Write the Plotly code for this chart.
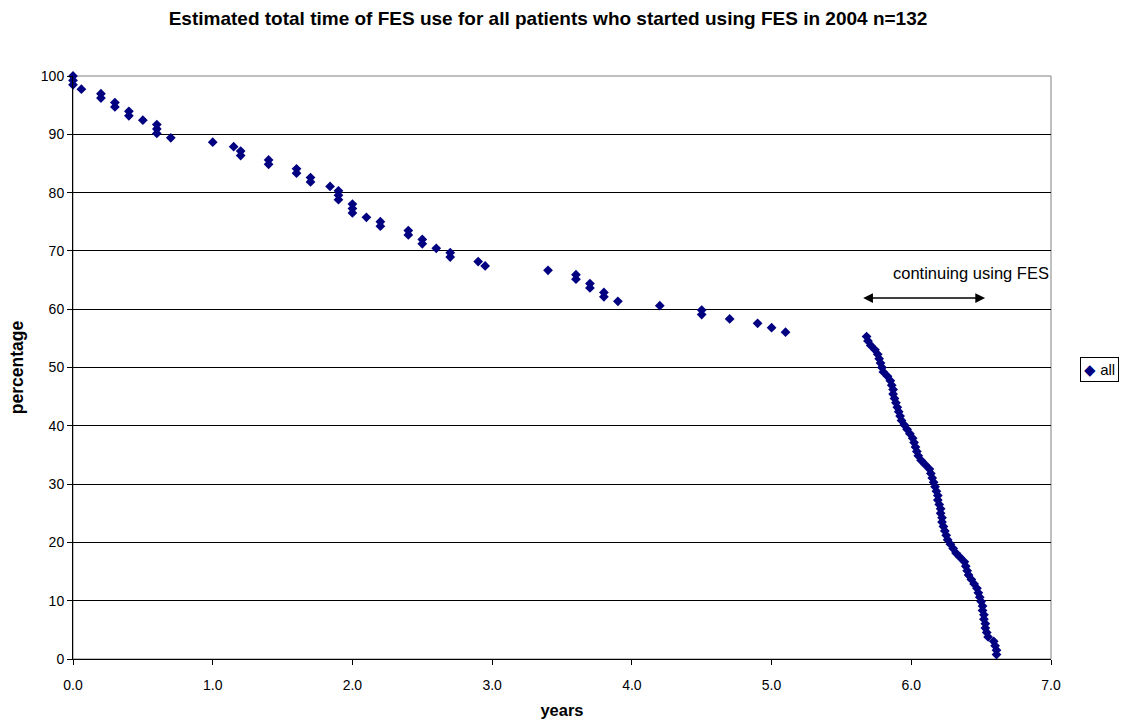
import plotly.graph_objects as go

# ---- data ----
years = [
    0.0, 0.0, 0.0, 0.06, 0.2, 0.2, 0.3, 0.3, 0.4, 0.4, 0.5,
    0.6, 0.6, 0.6, 0.7, 1.0, 1.15, 1.2, 1.2, 1.4, 1.4, 1.6, 1.6,
    1.7, 1.7, 1.84, 1.9, 1.9, 1.9, 2.0, 2.0, 2.0,
    2.1, 2.2, 2.2, 2.4, 2.4, 2.5, 2.5, 2.6, 2.7, 2.7, 2.9, 2.95,
    3.4, 3.6, 3.6, 3.7, 3.7, 3.8, 3.8, 3.9, 4.2, 4.5, 4.5, 4.7,
    4.9, 5.0, 5.1,
    5.68, 5.69, 5.71, 5.74, 5.76, 5.77, 5.78, 5.79, 5.80, 5.83,
    5.85, 5.86, 5.87, 5.87, 5.88, 5.89, 5.90, 5.91, 5.92, 5.93,
    5.95, 5.97, 5.99, 6.01, 6.02, 6.03, 6.04, 6.05, 6.07, 6.10,
    6.13, 6.14, 6.15, 6.16, 6.17, 6.18, 6.19, 6.19, 6.20, 6.21,
    6.21, 6.22, 6.22, 6.23, 6.24, 6.25, 6.26, 6.28, 6.30, 6.32,
    6.35, 6.38, 6.39, 6.40, 6.41, 6.43, 6.45, 6.47, 6.48, 6.49,
    6.50, 6.51, 6.51, 6.52, 6.52, 6.53, 6.53, 6.54, 6.55, 6.59,
    6.60, 6.61, 6.61,
]
percentage = [
    100.0, 99.24, 98.48, 97.73, 96.97, 96.21, 95.45, 94.70, 93.94, 93.18, 92.42,
    91.67, 90.91, 90.15, 89.39, 88.64, 87.88, 87.12, 86.36, 85.61, 84.85, 84.09, 83.33,
    82.58, 81.82, 81.06, 80.30, 79.55, 78.79, 78.03, 77.27, 76.52,
    75.76, 75.00, 74.24, 73.48, 72.73, 71.97, 71.21, 70.45, 69.70, 68.94, 68.18, 67.42,
    66.67, 65.91, 65.15, 64.39, 63.64, 62.88, 62.12, 61.36, 60.61, 59.85, 59.09, 58.33,
    57.58, 56.82, 56.06,
    55.30, 54.55, 53.79, 53.03, 52.27, 51.52, 50.76, 50.00, 49.24, 48.48,
    47.73, 46.97, 46.21, 45.45, 44.70, 43.94, 43.18, 42.42, 41.67, 40.91,
    40.15, 39.39, 38.64, 37.88, 37.12, 36.36, 35.61, 34.85, 34.09, 33.33,
    32.58, 31.82, 31.06, 30.30, 29.55, 28.79, 28.03, 27.27, 26.52, 25.76,
    25.00, 24.24, 23.48, 22.73, 21.97, 21.21, 20.45, 19.70, 18.94, 18.18,
    17.42, 16.67, 15.91, 15.15, 14.39, 13.64, 12.88, 12.12, 11.36, 10.61,
    9.85, 9.09, 8.33, 7.58, 6.82, 6.06, 5.30, 4.55, 3.79, 3.03,
    2.27, 1.52, 0.76,
]
series_name = "all"
title_text = "Estimated total time of FES use for all patients who started using FES in 2004 n=132"
arrow_from = 5.645
arrow_to = 6.528
arrow_level = 61.9
note_text = "continuing using FES"

FONT = "Liberation Sans, Arial, sans-serif"
NAVY = "#000080"

fig = go.Figure()
fig.add_trace(go.Scatter(
    x=years, y=percentage, mode="markers", name=series_name,
    marker=dict(symbol="diamond", size=7.5, color=NAVY, line=dict(width=0)),
    cliponaxis=False, showlegend=False,
))

fig.update_layout(
    width=1125, height=723,
    margin=dict(l=73, r=74, t=76, b=64, autoexpand=False),
    paper_bgcolor="white", plot_bgcolor="white",
    font=dict(family=FONT, size=14, color="black"),
    title=dict(text="<b>" + title_text + "</b>", x=548 / 1125, xref="container",
               xanchor="center", y=1 - 18 / 723, yref="container", yanchor="middle",
               font=dict(family=FONT, size=19, color="black")),
    xaxis=dict(range=[0, 7], tick0=0, dtick=1, tickformat=".1f",
               showgrid=False, zeroline=False, showline=True, linecolor="black", linewidth=1,
               ticks="outside", ticklen=5, tickcolor="black",
               tickfont=dict(size=14), ticklabelstandoff=8,
               title=dict(text="<b>years</b>", font=dict(size=16.5), standoff=12)),
    yaxis=dict(range=[0, 100], tick0=0, dtick=10,
               showgrid=True, gridcolor="black", gridwidth=1, zeroline=False,
               showline=True, linecolor="black", linewidth=1,
               ticks="outside", ticklen=5, tickcolor="black",
               tickfont=dict(size=14),
               title=dict(text="<b>percentage</b>", font=dict(size=17.5), standoff=12)),
    showlegend=False,
)

# plot-area frame (gray)
fig.add_shape(type="rect", xref="paper", yref="paper", x0=0, x1=1, y0=0, y1=1,
              line=dict(color="#808080", width=1), layer="below")

# double-headed arrow
fig.add_annotation(x=arrow_to, y=arrow_level, ax=arrow_from, ay=arrow_level,
                   xref="x", yref="y", axref="x", ayref="y", text="",
                   showarrow=True, arrowside="end+start", arrowhead=2,
                   arrowsize=1.3, arrowwidth=1.5, arrowcolor="black")
fig.add_annotation(x=7.0, y=66.2, xref="x", yref="y", text=note_text,
                   showarrow=False, xanchor="right", yanchor="middle",
                   font=dict(family=FONT, size=16.5, color="black"))

# legend box (pixel position converted to paper coords)
fig.add_annotation(x=(1080 - 73) / (1125 - 73 - 74), y=(659 - 369) / (723 - 76 - 64),
                   xref="paper", yref="paper",
                   text='<span style="color:' + NAVY + '">◆</span> ' + series_name,
                   showarrow=False, xanchor="left", yanchor="middle",
                   bordercolor="black", borderwidth=1, borderpad=3, bgcolor="white",
                   font=dict(family=FONT, size=15, color="black"))

fig.write_html("out.html")
